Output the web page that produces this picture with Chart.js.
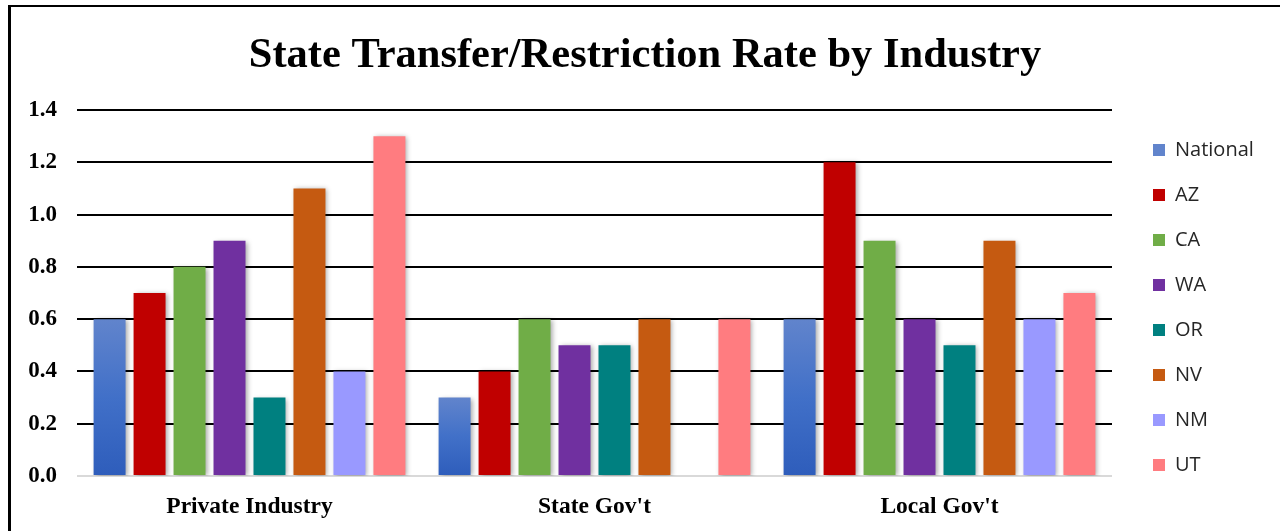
<!DOCTYPE html>
<html>
<head>
<meta charset="utf-8">
<script src="https://cdn.jsdelivr.net/npm/chart.js@4/dist/chart.umd.min.js"></script>
<style>
  html,body{margin:0;padding:0;background:#fff;overflow:hidden;}
  #wrap{position:relative;width:1280px;height:531px;}
  #frame{position:absolute;left:8px;top:5px;width:1400px;height:700px;border-left:3px solid #000;border-top:2px solid #000;pointer-events:none;}
</style>
</head>
<body>
<div id="wrap">
  <canvas id="c" width="1280" height="531"></canvas>
  <div id="frame"></div>
</div>
<script>
const categories = ["Private Industry", "State Gov't", "Local Gov't"];
const seriesNames = ["National", "AZ", "CA", "WA", "OR", "NV", "NM", "UT"];
const national = [0.6, 0.3, 0.6];
const az = [0.7, 0.4, 1.2];
const ca = [0.8, 0.6, 0.9];
const wa = [0.9, 0.5, 0.6];
const or = [0.3, 0.5, 0.5];
const nv = [1.1, 0.6, 0.9];
const nm = [0.4, null, 0.6];
const ut = [1.3, 0.6, 0.7];
const yTicks = [0.0, 0.2, 0.4, 0.6, 0.8, 1.0, 1.2, 1.4];

const seriesValues = [national, az, ca, wa, or, nv, nm, ut];
const colors = ["#4472c4", "#c00000", "#70ad47", "#7030a0", "#008080", "#c55a11", "#9999ff", "#ff7c80"];

function nationalFill(c) {
  const chart = c.chart;
  const area = chart.chartArea;
  if (!area || c.raw == null || !chart.scales.y) return colors[0];
  const yTop = chart.scales.y.getPixelForValue(c.raw);
  const g = chart.ctx.createLinearGradient(0, area.bottom, 0, yTop);
  g.addColorStop(0, "#2e5dbb");
  g.addColorStop(0.5, "#4170c8");
  g.addColorStop(1, "#6184cc");
  return g;
}

const datasets = seriesNames.map((n, i) => ({
  label: n,
  data: seriesValues[i],
  backgroundColor: i === 0 ? nationalFill : colors[i],
  borderWidth: 0
}));

const LEGEND_W = 168, LEGEND_SHIFT_X = 16, LEGEND_SHIFT_Y = 42;
const legendPlace = {
  id: 'legendPlace',
  beforeLayout(chart) {
    const lg = chart.legend;
    if (lg && !lg._patched) {
      const f = lg.fit;
      lg.fit = function () { f.call(this); this.width = LEGEND_W; };
      lg._patched = true;
    }
  },
  afterLayout(chart) {
    const lg = chart.legend;
    if (lg) {
      lg.left += LEGEND_SHIFT_X;
      lg.top += LEGEND_SHIFT_Y;
      lg.bottom += LEGEND_SHIFT_Y;
    }
  }
};

const shadow = {
  id: 'shadow',
  beforeDatasetsDraw(chart) {
    const ctx = chart.ctx;
    ctx.save();
    ctx.shadowColor = 'rgba(0,0,0,0.35)';
    ctx.shadowBlur = 5;
    ctx.shadowOffsetX = 2;
    ctx.shadowOffsetY = 1;
  },
  afterDatasetsDraw(chart) {
    chart.ctx.restore();
  }
};

const serif = "'Liberation Serif', 'Times New Roman', serif";

new Chart(document.getElementById('c'), {
  type: 'bar',
  data: { labels: categories, datasets },
  plugins: [legendPlace, shadow],
  options: {
    responsive: false,
    animation: false,
    devicePixelRatio: 1,
    layout: { padding: { left: 10, right: 0, top: 0, bottom: 0 } },
    datasets: { bar: { categoryPercentage: 0.927, barPercentage: 0.8 } },
    plugins: {
      title: {
        display: true,
        text: 'State Transfer/Restriction Rate by Industry',
        color: '#000',
        font: { family: serif, size: 42.5, weight: 'bold' },
        padding: { top: 31, bottom: 28 }
      },
      legend: {
        position: 'right',
        labels: {
          color: '#262626',
          font: { family: "'Open Sans', sans-serif", size: 20 },
          boxWidth: 12,
          boxHeight: 12,
          padding: 25
        }
      },
      tooltip: { enabled: false }
    },
    scales: {
      x: {
        grid: { display: false },
        border: { display: false },
        afterFit(axis) { axis.height = 55; },
        ticks: {
          color: '#000',
          font: { family: serif, size: 23.5, weight: 'bold' },
          padding: 9
        }
      },
      y: {
        min: 0,
        max: 1.4,
        afterBuildTicks(axis) { axis.ticks = yTicks.map(v => ({ value: v })); },
        afterFit(axis) { axis.width = 67; },
        border: { display: false },
        grid: {
          drawTicks: false,
          lineWidth: 2,
          color: (c) => (c.tick && c.tick.value === 0) ? '#d9d9d9' : '#000'
        },
        ticks: {
          color: '#000',
          padding: 20,
          font: { family: serif, size: 23, weight: 'bold' },
          callback: (v) => Number(v).toFixed(1)
        }
      }
    }
  }
});
</script>
</body>
</html>
